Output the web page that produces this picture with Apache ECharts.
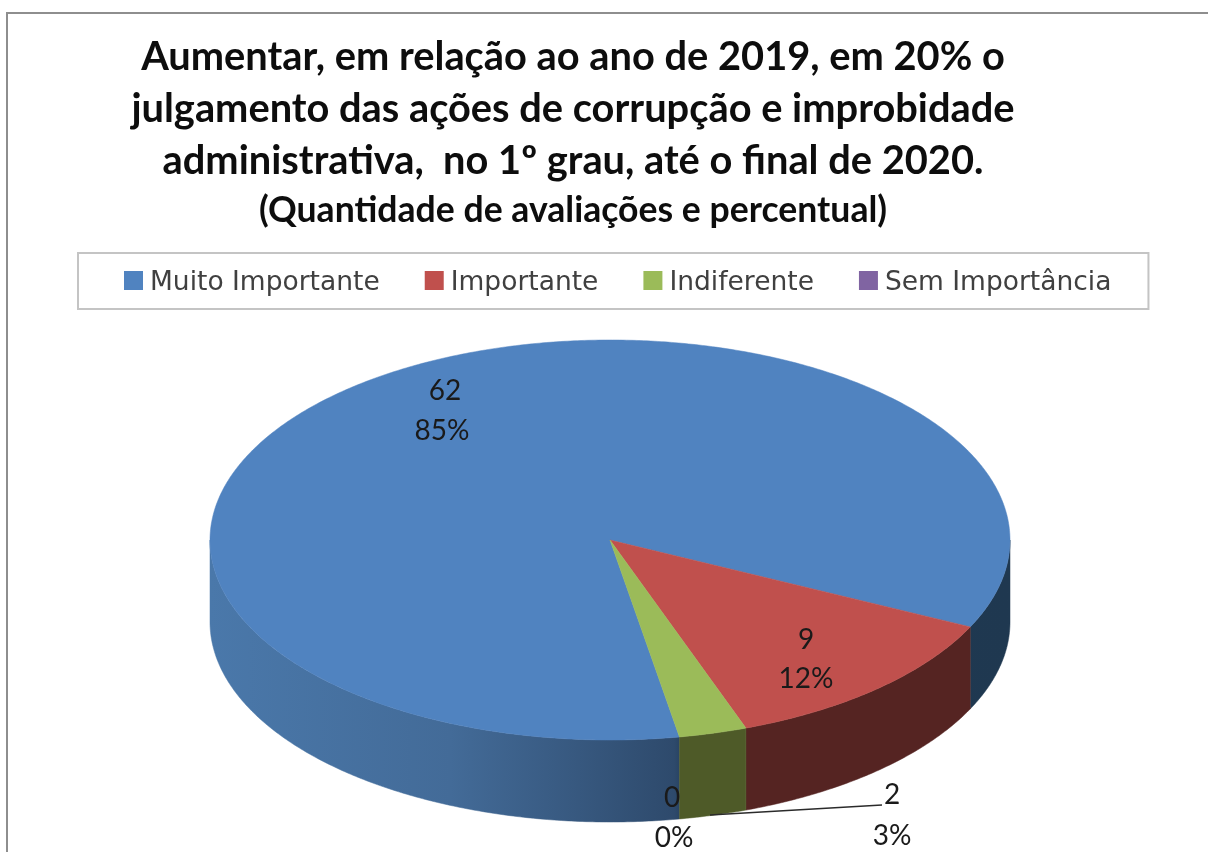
<!DOCTYPE html>
<html>
<head>
<meta charset="utf-8">
<title>Aumentar o julgamento das ações de corrupção</title>
<script src="https://cdn.jsdelivr.net/npm/echarts@6/dist/echarts.min.js"></script>
<style>
  html, body { margin: 0; padding: 0; background: #fff; }
  #chart { width: 1208px; height: 852px; }
</style>
</head>
<body>
<div id="chart"></div>
<script>
// dados
const categories = ['Muito Importante', 'Importante', 'Indiferente', 'Sem Importância']
const values = [62, 9, 2, 0]
const titleLines = [
  'Aumentar, em relação ao ano de 2019, em 20% o',
  'julgamento das ações de corrupção e improbidade',
  'administrativa,  no 1º grau, até o final de 2020.'
]
const subtitle = '(Quantidade de avaliações e percentual)'

// cores
const topColors = ['#5083c0', '#c0504d', '#9bbb59', '#8064a2']
const wallStops = [
  [[0, '#4a78aa'], [0.3, '#436b98'], [0.58, '#2e4a6c'], [0.6, '#203a55'], [1, '#1f3850']],
  [[0, '#552422'], [1, '#552422']],
  [[0, '#4e5a28'], [1, '#4e5a28']],
  [[0, '#4b3b60'], [1, '#4b3b60']]
]

// geometria da pizza em perspectiva
const cx = 610
const cy = 540
const rx = 400
const ry = 200
const depth = 82
const firstAngle = 80 // graus, horário a partir do leste

// rótulos: centro de cada linha [x, y da linha 1, x, y da linha 2]
const labelPos = [
  [445, 391, 442, 431],
  [806, 640, 806, 679],
  [892, 795, 892, 836],
  [672, 798, 674, 838]
]
const leader = { x1: 710, y1: 815, x2: 882, y2: 805 }

const total = values.reduce((a, b) => a + b, 0)

const sliceRange = i => {
  const before = values.slice(0, i).reduce((a, b) => a + b, 0)
  const start = firstAngle + before / total * 360
  return [start, start + values[i] / total * 360]
}

const pointAt = (deg, dy = 0) => {
  const a = deg * Math.PI / 180
  return [cx + rx * Math.cos(a), cy + ry * Math.sin(a) + dy]
}

const arcPoints = (from, to, dy = 0) => {
  const pts = []
  const n = Math.max(2, Math.ceil((to - from) * 2))
  for (let k = 0; k <= n; k++) pts.push(pointAt(from + (to - from) * k / n, dy))
  return pts
}

const renderSlice = i => (params, api) => {
  const [start, end] = sliceRange(i)
  const children = []

  if (values[i] > 0) {
    // parede lateral, só a metade da frente aparece
    const fill = new echarts.graphic.LinearGradient(cx - rx, 0, cx + rx, 0,
      wallStops[i].map(([offset, color]) => ({ offset, color })), true)
    for (const k of [0, 360]) {
      const lo = Math.max(start, k)
      const hi = Math.min(end, k + 180)
      if (hi <= lo) continue
      const wall = arcPoints(lo, hi).concat(arcPoints(lo, hi, depth).reverse())
      children.push({
        type: 'polygon',
        shape: { points: wall },
        style: { fill, stroke: fill, lineWidth: 0.5 }
      })
    }
    // face superior
    children.push({
      type: 'polygon',
      z2: 5,
      shape: { points: [[cx, cy]].concat(arcPoints(start, end)) },
      style: { fill: topColors[i], stroke: topColors[i], lineWidth: 0.5 }
    })
  }

  if (i === 2) {
    children.push({
      type: 'line',
      z2: 8,
      shape: leader,
      style: { stroke: '#2b2b2b', lineWidth: 1.5 }
    })
  }

  const pct = Math.round(values[i] / total * 100) + '%'
  const p = labelPos[i]
  const textStyle = { fill: '#1a1a1a', font: '28px Lato', align: 'center', verticalAlign: 'middle' }
  children.push({ type: 'text', z2: 10, x: p[0], y: p[1], style: { ...textStyle, text: String(values[i]) } })
  children.push({ type: 'text', z2: 10, x: p[2], y: p[3], style: { ...textStyle, text: pct } })

  return { type: 'group', children }
}

const chart = echarts.init(document.getElementById('chart'), null, { renderer: 'canvas' })

chart.setOption({
  animation: false,
  backgroundColor: '#fff',
  title: {
    text: titleLines.join('\n'),
    subtext: subtitle,
    left: 573,
    top: 31,
    textAlign: 'center',
    itemGap: 2,
    padding: 0,
    textStyle: { fontFamily: 'Lato', fontWeight: 'bold', fontSize: 39.8, lineHeight: 52, color: '#0d0d0d' },
    subtextStyle: { fontFamily: 'Lato', fontWeight: 'bold', fontSize: 35.6, lineHeight: 44, color: '#0d0d0d' }
  },
  legend: {
    data: categories,
    left: 78,
    top: 253,
    orient: 'horizontal',
    icon: 'rect',
    itemWidth: 19,
    itemHeight: 19,
    itemGap: 45,
    padding: [17, 37, 12, 46],
    borderColor: '#c4c4c4',
    borderWidth: 2,
    selectedMode: false,
    formatter: name => '{t|' + name + '}',
    textStyle: {
      padding: [0, 0, 0, 2],
      rich: {
        t: { fontFamily: 'DejaVu Sans', fontSize: 26.5, color: '#404040', padding: [6, 0, 0, 0] }
      }
    }
  },
  graphic: [{
    type: 'rect',
    silent: true,
    shape: { x: 7, y: 13, width: 1400, height: 1000 },
    style: { fill: 'none', stroke: '#8e8e8e', lineWidth: 2 }
  }],
  series: categories.map((name, i) => ({
    name,
    type: 'custom',
    coordinateSystem: 'none',
    itemStyle: { color: topColors[i] },
    renderItem: renderSlice(i),
    data: [values[i]],
    silent: true
  }))
})
</script>
</body>
</html>
